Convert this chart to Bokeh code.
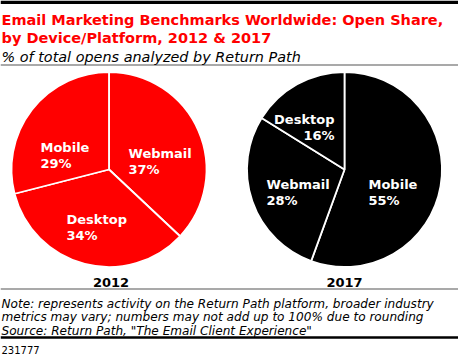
import math
from bokeh.plotting import figure
from bokeh.models import Range1d, ColumnDataSource
from bokeh.core.properties import value
from bokeh.embed import file_html
from bokeh.resources import INLINE

# ---------------- data ----------------
categories_2012 = ["Webmail", "Desktop", "Mobile"]
values_2012 = [37, 34, 29]
categories_2017 = ["Mobile", "Webmail", "Desktop"]
values_2017 = [55, 28, 16]
years = ["2012", "2017"]

title_lines = ["Email Marketing Benchmarks Worldwide: Open Share,",
               "by Device/Platform, 2012 & 2017"]
subtitle = "% of total opens analyzed by Return Path"
note_lines = ["Note: represents activity on the Return Path platform, broader industry",
              "metrics may vary; numbers may not add up to 100% due to rounding",
              "Source: Return Path, \"The Email Client Experience\""]
chart_id = "231777"

# ---------------- layout ----------------
W, H = 458, 354
FONT = "DejaVu Sans"
RED = "#ff0000"

def Y(y):
    return H - y

p = figure(width=W, height=H, output_backend="svg", toolbar_location=None,
           x_range=Range1d(0, W), y_range=Range1d(0, H), min_border=0)
p.axis.visible = False
p.grid.visible = False
p.outline_line_color = None
p.background_fill_color = "white"
p.border_fill_color = "white"

def txt(x, y, t, size, color="black", style="normal", align="left"):
    p.text(x=[x], y=[Y(y)], text=[t], text_font=value(FONT), text_font_size=f"{size}px",
           text_color=color, text_font_style=style, text_align=align,
           text_baseline="alphabetic")

def hline(y, color, width):
    p.segment(x0=[0], y0=[Y(y)], x1=[W], y1=[Y(y)], line_color=color, line_width=width)

# rules
hline(1.8, "black", 3.5)
hline(64.5, "#8c8c8c", 1.5)
hline(288.5, "#8c8c8c", 1.5)
hline(337, "black", 2.5)

# titles
txt(1, 19.5, title_lines[0], 14.5, RED, "bold")
txt(1, 37, title_lines[1], 14.5, RED, "bold")
txt(1, 56, subtitle, 14.4, "black", "italic")

# pies
def pie(cx, cy, r, cats, vals, color, labels):
    total = float(sum(vals))
    starts, ends = [], []
    cum = 0.0
    for v in vals:
        a0 = math.pi / 2 - 2 * math.pi * (cum + v) / total
        a1 = math.pi / 2 - 2 * math.pi * cum / total
        starts.append(a0)
        ends.append(a1)
        cum += v
    src = ColumnDataSource(dict(start=starts, end=ends, cat=cats, val=vals))
    p.wedge(x=cx, y=Y(cy), radius=r, start_angle="start", end_angle="end",
            direction="anticlock", fill_color=color, line_color="white",
            line_width=1.8, source=src)
    for c, v, (lx, ly, al) in zip(cats, vals, labels):
        txt(cx + lx, cy + ly, c, 13, "white", "bold", al)
        txt(cx + lx, cy + ly + 15.5, f"{v}%", 13, "white", "bold", al)

# label anchors relative to pie centre (dx, dy of first baseline, align)
pie(108.5, 169, 97.5, categories_2012, values_2012, RED,
    [(19.5, -16, "left"), (-42.5, 50, "left"), (-68.5, -22, "left")])
pie(344, 169, 97.5, categories_2017, values_2017, "black",
    [(24, 15, "left"), (-78, 15, "left"), (-10, -50, "right")])

txt(110.5, 282, years[0], 13, "black", "bold", "center")
txt(344, 282, years[1], 13, "black", "bold", "center")

# notes
txt(1, 303, note_lines[0], 12.1, "black", "italic")
txt(1, 316.5, note_lines[1], 12.1, "black", "italic")
txt(1, 330, note_lines[2], 12.1, "black", "italic")
txt(1, 349, chart_id, 10, "black")

open("out.html", "w").write(file_html(p, INLINE))
